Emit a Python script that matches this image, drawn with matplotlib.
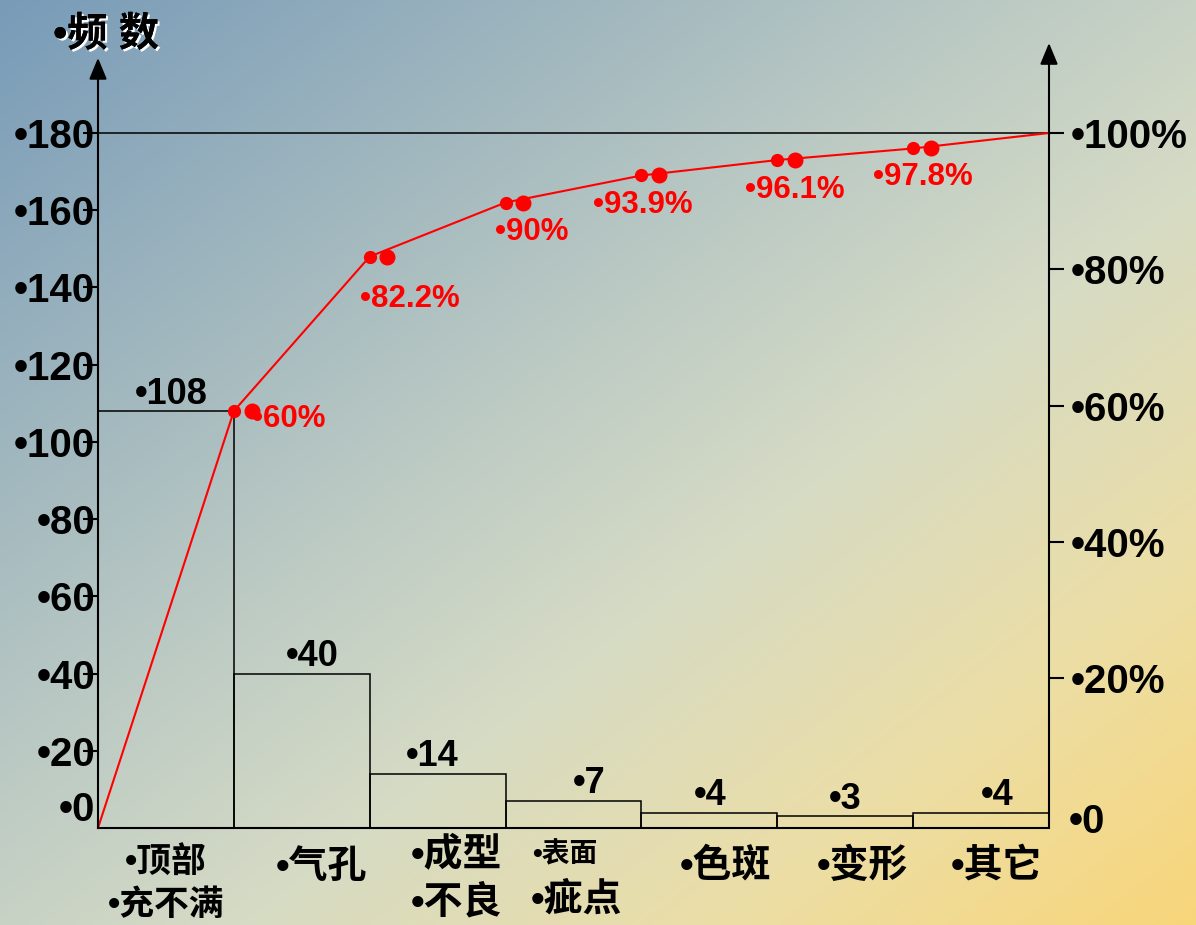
import numpy as np
import matplotlib
matplotlib.use('Agg')
import matplotlib.pyplot as plt
import matplotlib.patheffects as pe
from matplotlib.transforms import blended_transform_factory

# 缺陷类别与频数
categories = [['顶部', '充不满'], ['气孔'], ['成型', '不良'], ['表面', '疵点'],
              ['色斑'], ['变形'], ['其它']]
counts = [108, 40, 14, 7, 4, 3, 4]
cum_pct_labels = ['60%', '82.2%', '90%', '93.9%', '96.1%', '97.8%', '100%']
left_ticks = [20, 40, 60, 80, 100, 120, 140, 160, 180]
right_ticks = [20, 40, 60, 80, 100]

# 圆点用 Liberation Sans, 汉字回退到 Noto CJK
CJK = ['Liberation Sans', 'Noto Sans CJK SC', 'DejaVu Sans']
NUM = ['Liberation Sans', 'DejaVu Sans']

total = sum(counts)
cum = np.cumsum(counts)

fig = plt.figure(figsize=(11.96, 9.25), dpi=100)

# 背景渐变
W, H = 1196, 925
xx, yy = np.meshgrid(np.linspace(0, 1, W), np.linspace(0, 1, H))
t = (xx + yy) / 2
stops = [0, 0.45, 0.6, 0.8, 1.0]
cols = np.array([[120, 155, 184], [192, 205, 196], [214, 219, 196],
                 [236, 222, 166], [248, 214, 122]]) / 255
img = np.dstack([np.interp(t, stops, cols[:, c]) for c in range(3)])
bg = fig.add_axes([0, 0, 1, 1], zorder=-1)
bg.imshow(img, aspect='auto', extent=(0, 1, 0, 1), origin='upper')
bg.axis('off')

# 主坐标轴: 底边 828px, 顶 43px, 左 98px, 右 1049px
ax = fig.add_axes([98 / W, (H - 828) / H, (1049 - 98) / W, (828 - 43) / H])
ax.patch.set_alpha(0)
ax.set_xlim(0, len(counts))
ax.set_ylim(0, 785 / 3.861)

x = np.arange(len(counts)) + 0.5
ax.bar(x, counts, width=1.0, fill=False, edgecolor='black', linewidth=1.1, zorder=2)
ax.axhline(total, color='black', linewidth=1.1, zorder=2)

# 累计折线
line_x = np.arange(len(counts) + 1)
line_y = np.concatenate([[0], cum])
ax.plot(line_x, line_y, color='#ff0000', linewidth=1.5, zorder=3, clip_on=False)

# 数值标签
val_dx = [5, 11, -5, 16, 1, 0, 16]
for xi, c, dx in zip(x, counts, val_dx):
    ax.annotate(f'•{c}', xy=(xi, c), xytext=(dx, 17), textcoords='offset pixels',
                ha='center', va='center', fontsize=26, fontweight='bold',
                family=NUM, color='black')

# 累计百分比点和标签
pct_off = [(55, -8), (40, -42), (26, -29), (1, -30), (18, -30), (10, -29)]
for i in range(len(counts) - 1):
    xe, ye = i + 1, cum[i]
    ax.plot(xe, ye, 'o', color='#ff0000', markersize=8.5, zorder=4, clip_on=False)
    ax.plot(xe + 0.13, ye, 'o', color='#ff0000', markersize=10.5, zorder=4, clip_on=False)
    dx, dy = pct_off[i]
    ax.annotate('•' + cum_pct_labels[i], xy=(xe, ye), xytext=(dx, dy),
                textcoords='offset pixels', ha='center', va='center',
                fontsize=22.5, fontweight='bold', family=NUM, color='#ff0000')

# 左轴
for s in ['left', 'right', 'top']:
    ax.spines[s].set_visible(False)
ax.spines['bottom'].set_linewidth(1.5)
ax.set_xticks([])
ax.set_yticks(left_ticks)
ax.set_yticklabels([f'•{v}' for v in left_ticks], fontsize=29, fontweight='bold',
                   family=NUM)
ax.tick_params(axis='y', direction='out', length=11, width=1.5, pad=-9)
ax.annotate('•0', xy=(0, 0), xycoords='axes fraction', xytext=(-3, 18),
            textcoords='offset pixels', ha='right', va='center',
            fontsize=29, fontweight='bold', family=NUM)

arrow = dict(arrowstyle='-|>,head_length=0.65,head_width=0.27', mutation_scale=20,
             lw=1.5, color='black', shrinkA=0, shrinkB=0)
ax.annotate('', xy=(0, 0.981), xytext=(0, 0), xycoords='axes fraction',
            arrowprops=arrow, annotation_clip=False)
ax.annotate('', xy=(1, 1.0), xytext=(1, 0), xycoords='axes fraction',
            arrowprops=arrow, annotation_clip=False)

# 右轴 (百分比)
ax2 = ax.twinx()
ax2.set_ylim(-1.98, -1.98 + 785 / 6.815)
for s in ax2.spines.values():
    s.set_visible(False)
ax2.set_yticks(right_ticks)
ax2.set_yticklabels([f'•{v}%' for v in right_ticks], fontsize=29, fontweight='bold',
                    family=NUM)
ax2.tick_params(axis='y', direction='out', length=11, width=1.5, pad=5)
ax2.annotate('•0', xy=(1, 0), xycoords='axes fraction', xytext=(20, 6),
             textcoords='offset pixels', ha='left', va='center',
             fontsize=29, fontweight='bold', family=NUM)

# 类别标签
tr = blended_transform_factory(fig.transFigure, fig.transFigure)
cat_layout = [
    [(166, 862, 25), (166, 905, 25)],
    [(321, 868, 28)],
    [(456, 855, 28), (456, 903, 28)],
    [(565, 855, 20), (576, 900, 28)],
    [(725, 866, 28)],
    [(862, 866, 28)],
    [(996, 866, 28)],
]
for lines, layout in zip(categories, cat_layout):
    for txt, (px, py, fs) in zip(lines, layout):
        fig.text(px / W, 1 - py / H, '•' + txt, transform=tr, ha='center',
                 va='center', fontsize=fs, family=CJK, fontweight='bold',
                 color='black')

# 纵轴标题
fig.text(106 / W, 1 - 35 / H, '•频 数', ha='center', va='center', fontsize=29,
         family=CJK, fontweight='bold', color='black',
         path_effects=[pe.withSimplePatchShadow(offset=(1.5, -1.5),
                                                shadow_rgbFace='white', alpha=1.0),
                       pe.Normal()])

fig.savefig('out.png', dpi=100)
